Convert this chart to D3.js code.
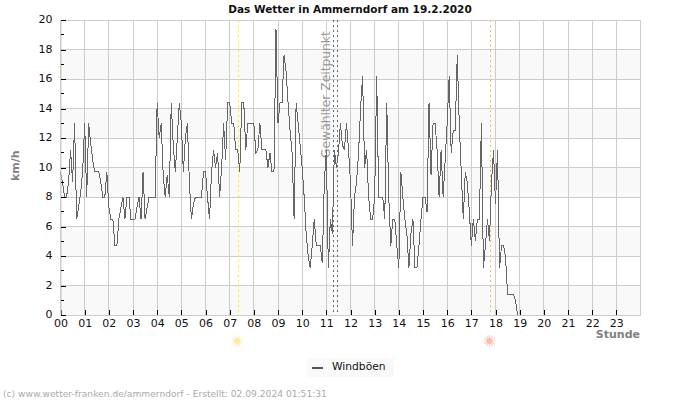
<!DOCTYPE html>
<html lang="de">
<head>
<meta charset="utf-8">
<title>Das Wetter in Ammerndorf</title>
<script src="https://cdn.jsdelivr.net/npm/d3@7"></script>
<style>
    body { margin: 0; background: #fff; }
    svg { display: block; font-family: "DejaVu Sans", sans-serif; }
</style>
</head>
<body>
<svg width="700" height="400"></svg>
<script>
// Windböen in km/h, ein Wert alle 5 Minuten, je Zeile eine Stunde
var boeen = [
    9.7, 9.0, 8.0, 8.0, 9.0, 11.2, 9.0, 13, 6.5, 7.3, 8.3, 9.7,
    13, 8.0, 13, 11.6, 10.5, 9.7, 9.7, 9.7, 9.0, 8.0, 8.0, 9.7,
    7.3, 6.5, 6.5, 4.7, 4.7, 6.5, 7.3, 8.0, 6.5, 8.0, 8.0, 6.5,
    6.5, 6.5, 7.3, 8.0, 6.5, 9.7, 6.5, 7.3, 8.0, 8.0, 8.0, 8.0,
    14.4, 12, 13, 9.5, 8.0, 9.5, 8.0, 14.4, 11.5, 9.7, 12, 14.4,
    13, 9.7, 12, 13, 9.0, 6.5, 7.5, 8.0, 8.0, 8.0, 8.0, 9.7,
    9.7, 8.0, 6.5, 9.7, 11.2, 10, 11, 8.0, 10, 13, 10.5, 14.4,
    14.4, 13, 13, 11.2, 11.2, 9.7, 14.4, 14.4, 11.2, 13, 13, 13,
    13, 11, 11.2, 13, 11.2, 11.2, 11.2, 10, 11, 9.7, 9.7, 19.4,
    13, 14.4, 14.4, 17.6, 16.5, 14.4, 12.5, 11, 6.5, 14.4, 13, 11.5,
    10, 8.0, 5.5, 4.0, 3.2, 4.7, 6.5, 4.7, 4.7, 4.7, 3.5, 9.0,
    11.2, 3.2, 6.5, 5.5, 11.2, 10, 11, 13, 11.5, 11.2, 13, 11.2,
    9.0, 4.7, 8.0, 9.0, 11, 14, 16.2, 10, 11.2, 8.0, 6.5, 6.5,
    8.0, 16.2, 8.0, 8.0, 8.0, 6.5, 14.4, 8.0, 4.7, 6.5, 6.5, 4.7,
    3.2, 9.7, 8.0, 6.5, 5.5, 3.2, 5.5, 6.5, 3.2, 3.2, 4.7, 6.5,
    8.0, 8.0, 7.0, 14.4, 9.5, 13, 13, 11.2, 8.0, 11.2, 8.0, 10.5,
    13, 16.2, 11, 12.5, 12.5, 17.6, 13, 9.7, 6.5, 9.7, 9.0, 7.0,
    4.7, 6.5, 5.0, 6.5, 6.5, 13, 3.2, 4.7, 6.5, 5.0, 9.0, 11.2,
    7.5, 11.2, 3.2, 4.7, 4.7, 3.9, 1.4, 1.4, 1.4, 1.4, 0.9, 0
];
var stunden = d3.range(0, 24);
var wertTicks = d3.range(0, 21, 2);
var nebenTicks = d3.range(1, 20, 2);
var baender = [0, 4, 8, 12, 16];
var gewaehlt = [11.28, 11.45];
var sonnenaufgang = 7.34;
var sonnenuntergang = 17.77;

var svg = d3.select("svg");

// Echellen
var x = d3.scaleLinear().domain([0, 24]).range([60.5, 640.5]);
var y = d3.scaleLinear().domain([0, 20]).range([315, 20]);

// Hintergrundbaender
svg.append("g").selectAll("rect")
    .data(baender)
    .join("rect")
    .attr("x", x(0))
    .attr("width", x(24) - x(0))
    .attr("y", d => y(d + 2))
    .attr("height", d => y(d) - y(d + 2))
    .attr("fill", "#f9f9f9");

// Gitter
var gitter = svg.append("g")
    .attr("stroke", "#cccccc")
    .attr("shape-rendering", "crispEdges");
gitter.selectAll(".gy")
    .data(wertTicks)
    .join("line")
    .attr("class", "gy")
    .attr("x1", x(0))
    .attr("x2", x(24))
    .attr("y1", d => y(d))
    .attr("y2", d => y(d));
gitter.selectAll(".gx")
    .data(stunden.concat([24]))
    .join("line")
    .attr("class", "gx")
    .attr("x1", d => x(d))
    .attr("x2", d => x(d))
    .attr("y1", y(0))
    .attr("y2", y(20));

// Senkrechte Markierungen
function markierung(stunde, farbe, muster) {
    svg.append("line")
        .attr("x1", Math.round(x(stunde)) + 0.5)
        .attr("x2", Math.round(x(stunde)) + 0.5)
        .attr("y1", y(20))
        .attr("y2", y(0))
        .attr("stroke", farbe)
        .attr("stroke-dasharray", muster)
        .attr("shape-rendering", "crispEdges");
}
markierung(sonnenaufgang, "#ffee00", "2,3");
markierung(sonnenuntergang, "#ffbb44", "2,3");
gewaehlt.forEach(d => markierung(d, "#666666", "2,3"));

svg.append("text")
    .attr("transform", "translate(330,158) rotate(-90)")
    .attr("font-size", 12.3)
    .attr("fill", "#999999")
    .text("Gewählter Zeitpunkt");

// Windboeen als Linie, ohne Kantenglaettung wie im Original
var linie = d3.line()
    .x((d, i) => x(i / 12))
    .y(d => y(d));
svg.append("path")
    .datum(boeen)
    .attr("d", linie)
    .attr("fill", "none")
    .attr("stroke", "#666666")
    .attr("stroke-width", 1)
    .attr("shape-rendering", "crispEdges");

// Achsen
var achseX = d3.axisBottom(x)
    .tickValues(stunden)
    .tickFormat(d => d3.format("02")(d))
    .tickSizeInner(-5)
    .tickSizeOuter(0)
    .tickPadding(4);
var gX = svg.append("g")
    .attr("transform", "translate(0," + y(0) + ")")
    .call(achseX);
gX.select(".domain").attr("stroke", "#cccccc");

var achseY = d3.axisLeft(y)
    .tickValues(wertTicks)
    .tickSizeInner(-5)
    .tickSizeOuter(0)
    .tickPadding(8);
var gY = svg.append("g")
    .attr("transform", "translate(" + x(0) + ",0)")
    .call(achseY);
gY.select(".domain").attr("stroke", "#cccccc");
gY.selectAll("text").attr("y", -1);

[gX, gY].forEach(g => {
    g.attr("font-family", "DejaVu Sans, sans-serif").attr("font-size", 11);
    g.selectAll("text").attr("fill", "#111111");
    g.selectAll(".tick line").attr("stroke", "#000000").attr("shape-rendering", "crispEdges");
});

// Nebenstriche
svg.append("g").selectAll("line")
    .data(nebenTicks)
    .join("line")
    .attr("x1", x(0))
    .attr("x2", x(0) + 3)
    .attr("y1", d => y(d))
    .attr("y2", d => y(d))
    .attr("stroke", "#000000")
    .attr("shape-rendering", "crispEdges");

// Sonnensymbole
function sonne(stunde, farbe) {
    var g = svg.append("g")
        .attr("transform", "translate(" + (x(stunde) - 0.5) + ",341)");
    g.selectAll("line")
        .data(d3.range(0, 360, 30))
        .join("line")
        .attr("x1", 3)
        .attr("x2", 6)
        .attr("transform", d => "rotate(" + d + ")")
        .attr("stroke", farbe)
        .attr("stroke-opacity", 0.7)
        .attr("stroke-width", 1);
    g.append("circle").attr("r", 3).attr("fill", farbe);
}
sonne(sonnenaufgang, "#ffe9a8");
sonne(sonnenuntergang, "#ffb8a4");

// Titel und Beschriftungen
svg.append("text")
    .attr("x", 350)
    .attr("y", 13)
    .attr("text-anchor", "middle")
    .attr("font-size", 10.5)
    .attr("font-weight", "bold")
    .attr("fill", "#111111")
    .text("Das Wetter in Ammerndorf am 19.2.2020");
svg.append("text")
    .attr("transform", "translate(19,181) rotate(-90)")
    .attr("font-size", 11)
    .attr("font-weight", "bold")
    .attr("fill", "#808080")
    .text("km/h");
svg.append("text")
    .attr("x", 640)
    .attr("y", 338)
    .attr("text-anchor", "end")
    .attr("font-size", 11)
    .attr("font-weight", "bold")
    .attr("fill", "#808080")
    .text("Stunde");

// Legende
svg.append("rect")
    .attr("x", 307)
    .attr("y", 358)
    .attr("width", 87)
    .attr("height", 19)
    .attr("fill", "#f9f9f9");
svg.append("line")
    .attr("x1", 312)
    .attr("x2", 323)
    .attr("y1", 368)
    .attr("y2", 368)
    .attr("stroke", "#555555")
    .attr("stroke-width", 2)
    .attr("shape-rendering", "crispEdges");
svg.append("text")
    .attr("x", 332)
    .attr("y", 370)
    .attr("font-size", 10.7)
    .attr("fill", "#111111")
    .text("Windböen");

// Fusszeile
svg.append("text")
    .attr("x", 3)
    .attr("y", 397)
    .attr("font-size", 9.15)
    .attr("fill", "#aaaaaa")
    .text("(c) www.wetter-franken.de/ammerndorf - Erstellt: 02.09.2024 01:51:31");
</script>
</body>
</html>
